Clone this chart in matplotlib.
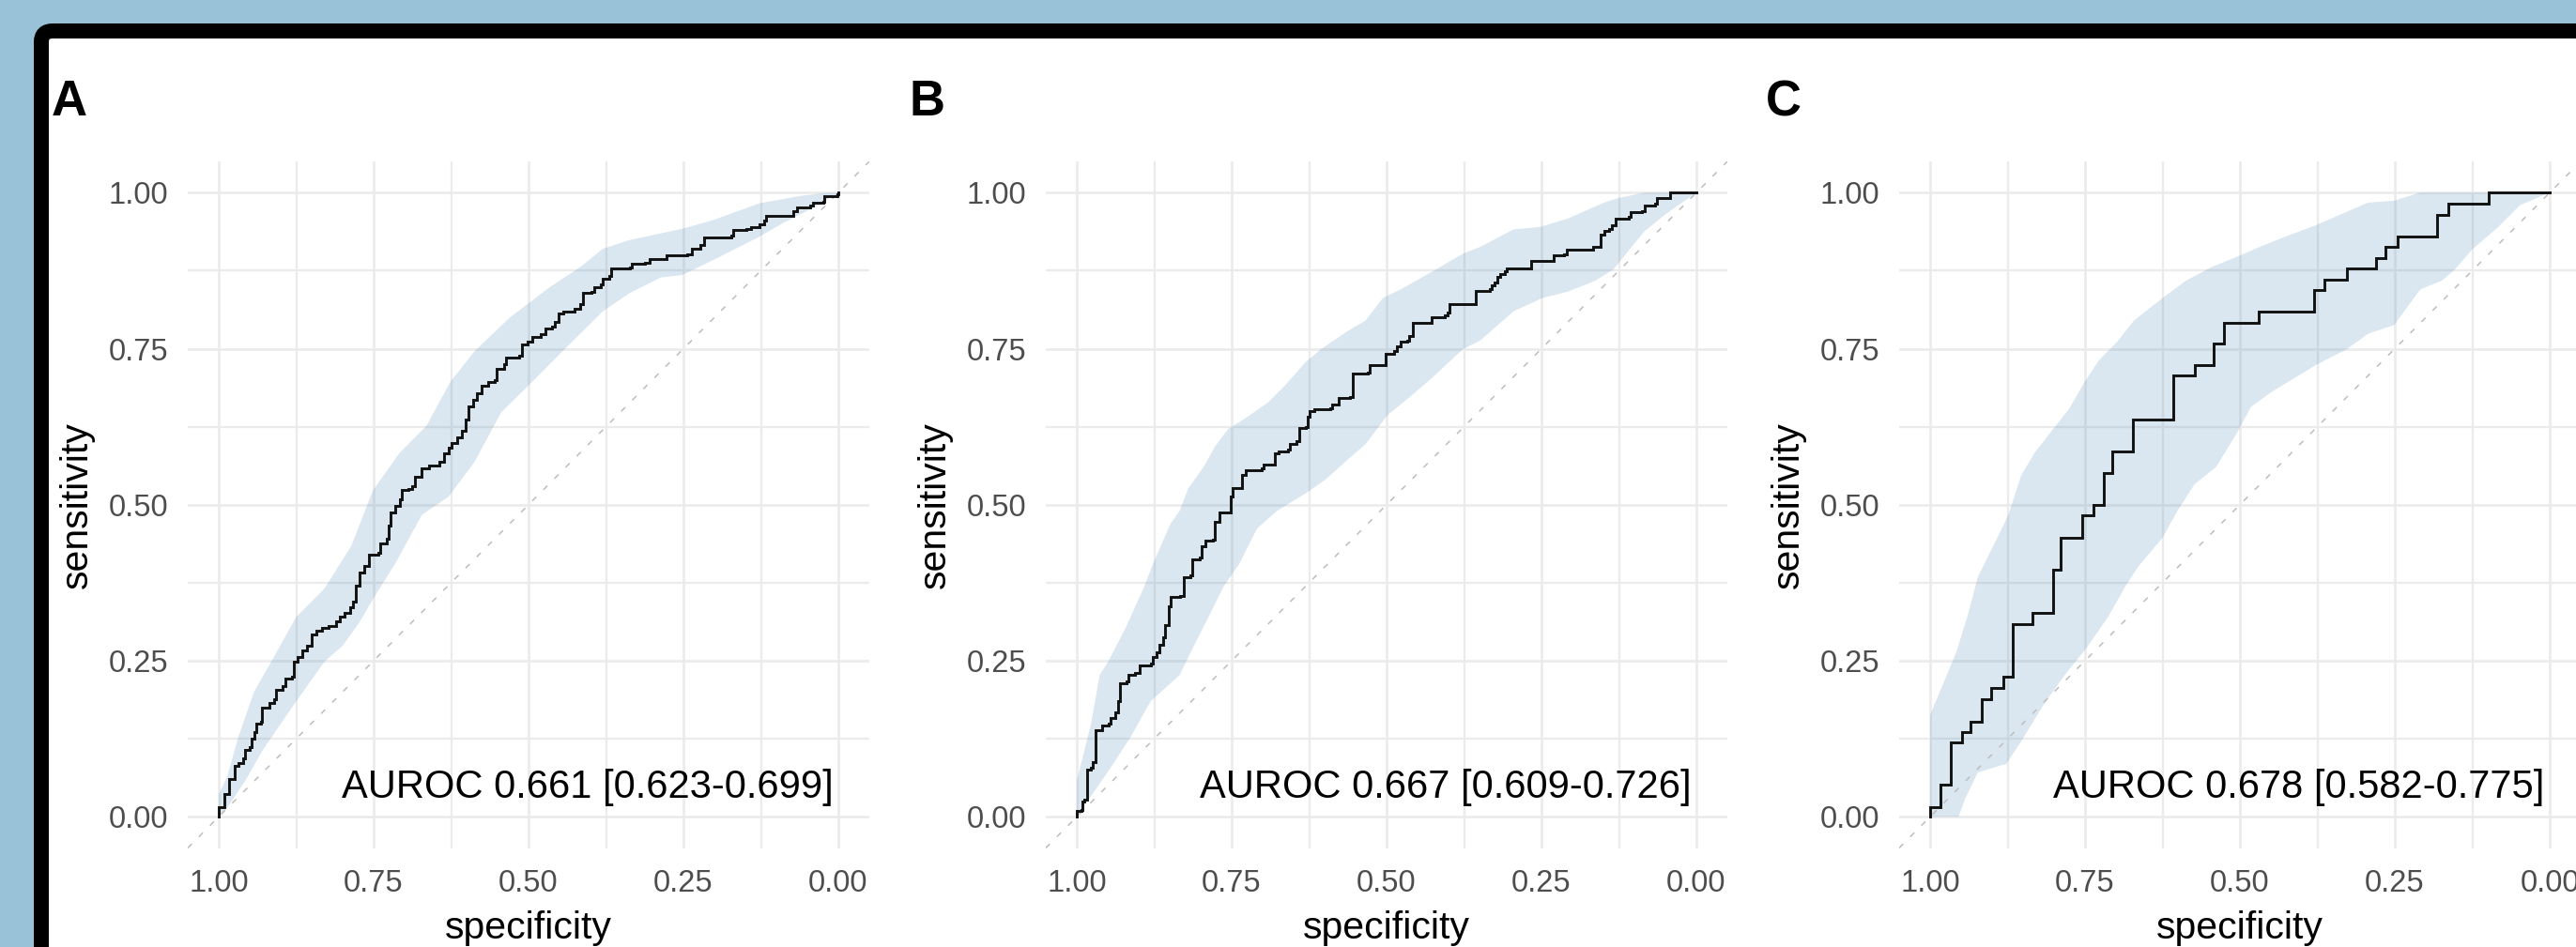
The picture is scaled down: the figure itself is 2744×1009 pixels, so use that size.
import matplotlib
matplotlib.use("Agg")
import matplotlib.pyplot as plt
import numpy as np
from matplotlib.patches import FancyBboxPatch
from matplotlib.ticker import FixedLocator, MultipleLocator

plt.rcParams["font.family"] = ["Liberation Sans", "DejaVu Sans"]

W, H, DPI = 2744, 1009, 100

panel_labels = ["A", "B", "C"]
auroc_labels = [
    "AUROC 0.661 [0.623-0.699]",
    "AUROC 0.667 [0.609-0.726]",
    "AUROC 0.678 [0.582-0.775]",
]
tick_values = [1.00, 0.75, 0.50, 0.25, 0.00]
tick_labels = ["1.00", "0.75", "0.50", "0.25", "0.00"]

# ROC curves (specificity, sensitivity)
roc_a_spec = [1.000, 1.000, 0.991, 0.991, 0.984, 0.984, 0.975, 0.975, 0.968, 0.961,
              0.957, 0.950, 0.947, 0.943, 0.939, 0.932, 0.930, 0.918, 0.911, 0.907,
              0.897, 0.893, 0.882, 0.879, 0.872, 0.865, 0.857, 0.850, 0.843, 0.833,
              0.822, 0.811, 0.804, 0.797, 0.788, 0.783, 0.779, 0.772, 0.765, 0.758,
              0.743, 0.740, 0.729, 0.726, 0.722, 0.715, 0.708, 0.704, 0.694, 0.688,
              0.683, 0.672, 0.661, 0.644, 0.636, 0.629, 0.624, 0.615, 0.608, 0.601,
              0.597, 0.590, 0.583, 0.576, 0.565, 0.555, 0.551, 0.540, 0.537, 0.515,
              0.510, 0.501, 0.494, 0.480, 0.473, 0.462, 0.458, 0.451, 0.444, 0.426,
              0.416, 0.412, 0.398, 0.394, 0.383, 0.380, 0.369, 0.367, 0.337, 0.334,
              0.312, 0.305, 0.277, 0.244, 0.237, 0.223, 0.216, 0.173, 0.170, 0.148,
              0.141, 0.127, 0.120, 0.116, 0.073, 0.066, 0.045, 0.041, 0.024, 0.022,
              0.002, 0.000]
roc_a_sens = [0.000, 0.015, 0.018, 0.036, 0.040, 0.061, 0.063, 0.082, 0.086, 0.093,
              0.107, 0.111, 0.125, 0.136, 0.150, 0.153, 0.175, 0.182, 0.189, 0.203,
              0.210, 0.221, 0.224, 0.249, 0.256, 0.267, 0.274, 0.292, 0.298, 0.303,
              0.305, 0.313, 0.320, 0.327, 0.335, 0.345, 0.370, 0.391, 0.402, 0.420,
              0.423, 0.438, 0.445, 0.466, 0.487, 0.498, 0.509, 0.523, 0.525, 0.530,
              0.544, 0.558, 0.563, 0.569, 0.583, 0.592, 0.599, 0.608, 0.619, 0.636,
              0.658, 0.668, 0.679, 0.690, 0.697, 0.700, 0.718, 0.725, 0.736, 0.739,
              0.757, 0.761, 0.769, 0.773, 0.782, 0.786, 0.793, 0.807, 0.810, 0.814,
              0.821, 0.840, 0.841, 0.849, 0.853, 0.862, 0.867, 0.878, 0.880, 0.886,
              0.888, 0.894, 0.899, 0.901, 0.910, 0.916, 0.928, 0.931, 0.940, 0.942,
              0.945, 0.949, 0.956, 0.963, 0.970, 0.977, 0.979, 0.984, 0.986, 0.995,
              0.997, 1.000]

roc_b_spec = [1.000, 1.000, 0.993, 0.991, 0.988, 0.984, 0.977, 0.974, 0.970, 0.959,
              0.949, 0.945, 0.938, 0.934, 0.931, 0.920, 0.916, 0.906, 0.899, 0.881,
              0.877, 0.871, 0.866, 0.861, 0.857, 0.852, 0.849, 0.834, 0.827, 0.816,
              0.813, 0.802, 0.799, 0.793, 0.781, 0.777, 0.770, 0.756, 0.752, 0.749,
              0.738, 0.734, 0.727, 0.702, 0.699, 0.684, 0.681, 0.674, 0.659, 0.656,
              0.645, 0.641, 0.631, 0.627, 0.624, 0.616, 0.591, 0.588, 0.577, 0.559,
              0.554, 0.531, 0.527, 0.506, 0.502, 0.488, 0.484, 0.477, 0.466, 0.463,
              0.457, 0.431, 0.427, 0.406, 0.402, 0.399, 0.359, 0.356, 0.334, 0.331,
              0.326, 0.321, 0.316, 0.309, 0.306, 0.270, 0.266, 0.234, 0.231, 0.213,
              0.209, 0.170, 0.166, 0.156, 0.154, 0.149, 0.141, 0.136, 0.131, 0.109,
              0.106, 0.088, 0.084, 0.066, 0.063, 0.045, 0.043, 0.000]
roc_b_sens = [0.000, 0.009, 0.011, 0.025, 0.028, 0.075, 0.078, 0.087, 0.138, 0.146,
              0.149, 0.158, 0.167, 0.185, 0.214, 0.217, 0.227, 0.231, 0.243, 0.245,
              0.256, 0.263, 0.275, 0.288, 0.307, 0.337, 0.352, 0.354, 0.384, 0.387,
              0.413, 0.415, 0.433, 0.442, 0.444, 0.472, 0.487, 0.488, 0.513, 0.526,
              0.527, 0.547, 0.556, 0.558, 0.564, 0.565, 0.582, 0.586, 0.588, 0.597,
              0.602, 0.623, 0.625, 0.641, 0.650, 0.653, 0.655, 0.661, 0.671, 0.673,
              0.710, 0.712, 0.723, 0.723, 0.742, 0.746, 0.754, 0.761, 0.763, 0.771,
              0.792, 0.792, 0.801, 0.803, 0.808, 0.822, 0.822, 0.842, 0.845, 0.852,
              0.856, 0.865, 0.870, 0.874, 0.879, 0.879, 0.891, 0.891, 0.900, 0.901,
              0.908, 0.909, 0.913, 0.913, 0.932, 0.938, 0.941, 0.948, 0.959, 0.961,
              0.969, 0.971, 0.980, 0.982, 0.991, 0.992, 1.000, 1.000]

roc_c_spec = [1.000, 1.000, 0.983, 0.966, 0.949, 0.935, 0.917, 0.901, 0.882, 0.867,
              0.835, 0.802, 0.789, 0.755, 0.737, 0.720, 0.706, 0.673, 0.608, 0.573,
              0.543, 0.526, 0.470, 0.380, 0.363, 0.328, 0.281, 0.265, 0.246, 0.182,
              0.163, 0.098, 0.000]
roc_c_sens = [0.000, 0.016, 0.051, 0.119, 0.136, 0.153, 0.188, 0.206, 0.224, 0.309,
              0.327, 0.396, 0.447, 0.483, 0.499, 0.551, 0.586, 0.637, 0.707, 0.723,
              0.758, 0.792, 0.810, 0.844, 0.861, 0.879, 0.895, 0.913, 0.930, 0.964,
              0.982, 1.000, 1.000]

# confidence bands of sensitivity: upper and lower edges
ci_a_hi_spec = [1.0, 0.986, 0.968, 0.943, 0.907, 0.875, 0.829, 0.786, 0.751, 0.708, 0.665, 0.626,
                0.587, 0.530, 0.465, 0.416, 0.380, 0.337, 0.252, 0.202, 0.127, 0.059, 0.024, 0.0]
ci_a_hi_sens = [0.036, 0.065, 0.129, 0.200, 0.263, 0.320, 0.366, 0.434, 0.523, 0.583, 0.626, 0.697,
                0.746, 0.800, 0.849, 0.881, 0.910, 0.924, 0.942, 0.956, 0.983, 0.995, 0.999, 1.0]
ci_a_lo_spec = [1.0, 0.986, 0.957, 0.929, 0.875, 0.829, 0.800, 0.772, 0.751, 0.715, 0.672, 0.629,
                0.587, 0.544, 0.494, 0.444, 0.380, 0.337, 0.287, 0.252, 0.202, 0.130, 0.088, 0.038, 0.0]
ci_a_lo_sens = [0.0, 0.015, 0.058, 0.107, 0.185, 0.249, 0.274, 0.313, 0.349, 0.406, 0.484, 0.513,
                0.569, 0.648, 0.697, 0.747, 0.810, 0.839, 0.864, 0.868, 0.892, 0.928, 0.952, 0.977, 1.0]

ci_b_hi_spec = [1.0, 0.977, 0.963, 0.949, 0.920, 0.891, 0.877, 0.849, 0.834, 0.820, 0.795, 0.777,
                0.756, 0.727, 0.691, 0.663, 0.631, 0.606, 0.563, 0.534, 0.506, 0.477, 0.420, 0.377,
                0.349, 0.295, 0.252, 0.206, 0.149, 0.127, 0.084, 0.0]
ci_b_hi_sens = [0.057, 0.149, 0.227, 0.249, 0.305, 0.369, 0.405, 0.469, 0.490, 0.526, 0.561, 0.593,
                0.621, 0.639, 0.664, 0.692, 0.728, 0.749, 0.778, 0.795, 0.831, 0.845, 0.877, 0.902,
                0.913, 0.941, 0.945, 0.959, 0.984, 0.991, 1.0, 1.0]
ci_b_lo_spec = [1.0, 0.991, 0.970, 0.941, 0.913, 0.881, 0.834, 0.813, 0.791, 0.763, 0.738, 0.709,
                0.677, 0.631, 0.599, 0.563, 0.534, 0.499, 0.456, 0.427, 0.377, 0.349, 0.295, 0.249,
                0.206, 0.163, 0.134, 0.084, 0.049, 0.0]
ci_b_lo_sens = [0.0, 0.014, 0.043, 0.085, 0.128, 0.185, 0.227, 0.270, 0.313, 0.369, 0.405, 0.462,
                0.490, 0.518, 0.540, 0.572, 0.597, 0.643, 0.678, 0.703, 0.749, 0.763, 0.810, 0.831,
                0.842, 0.859, 0.877, 0.938, 0.966, 1.0]

ci_c_hi_spec = [1.0, 0.979, 0.958, 0.940, 0.923, 0.895, 0.874, 0.853, 0.832, 0.804, 0.776, 0.751,
                0.727, 0.699, 0.671, 0.625, 0.587, 0.545, 0.503, 0.468, 0.433, 0.377, 0.293, 0.251,
                0.209, 0.0]
ci_c_hi_sens = [0.163, 0.213, 0.263, 0.320, 0.384, 0.440, 0.483, 0.547, 0.582, 0.618, 0.653, 0.696,
                0.732, 0.760, 0.795, 0.831, 0.859, 0.881, 0.898, 0.913, 0.927, 0.948, 0.984, 0.987,
                1.0, 1.0]
ci_c_lo_spec = [1.0, 0.954, 0.944, 0.923, 0.877, 0.853, 0.818, 0.783, 0.748, 0.713, 0.685, 0.664,
                0.625, 0.601, 0.573, 0.538, 0.503, 0.482, 0.447, 0.377, 0.328, 0.293, 0.251, 0.209,
                0.174, 0.153, 0.125, 0.083, 0.048, 0.0]
ci_c_lo_sens = [0.0, 0.0, 0.028, 0.071, 0.085, 0.121, 0.178, 0.227, 0.270, 0.320, 0.369, 0.401,
                0.447, 0.490, 0.533, 0.561, 0.618, 0.657, 0.682, 0.724, 0.749, 0.774, 0.788, 0.845,
                0.859, 0.877, 0.909, 0.945, 0.980, 1.0]

curves = [(roc_a_spec, roc_a_sens), (roc_b_spec, roc_b_sens), (roc_c_spec, roc_c_sens)]
bands = [
    (ci_a_hi_spec, ci_a_hi_sens, ci_a_lo_spec, ci_a_lo_sens),
    (ci_b_hi_spec, ci_b_hi_sens, ci_b_lo_spec, ci_b_lo_sens),
    (ci_c_hi_spec, ci_c_hi_sens, ci_c_lo_spec, ci_c_lo_sens),
]

BG_BLUE = "#99c2d8"
GRID = "#ebebeb"
BAND = (70 / 255, 130 / 255, 180 / 255, 0.2)
TICK_GREY = "#4d4d4d"

# panel geometry, in pixels from the top-left corner
panel_left = [200, 1114, 2023]
panel_w = 726
panel_top, panel_bottom = 172, 903.5

fig = plt.figure(figsize=(W / DPI, H / DPI), dpi=DPI)
fig.patch.set_facecolor(BG_BLUE)

bg = fig.add_axes([0, 0, 1, 1])
bg.set_xlim(0, W)
bg.set_ylim(H, 0)
bg.axis("off")
bg.set_zorder(-5)
bg.add_patch(FancyBboxPatch((44, 33), 2900, 1200,
                            boxstyle="round,pad=0,rounding_size=12",
                            facecolor="white", edgecolor="black",
                            linewidth=16 * 72 / DPI))

for i in range(3):
    left = panel_left[i]
    ax = fig.add_axes([left / W, 1 - panel_bottom / H, panel_w / W,
                       (panel_bottom - panel_top) / H])
    ax.set_facecolor("none")
    ax.set_xlim(1.05, -0.05)
    ax.set_ylim(-0.05, 1.05)
    for s in ax.spines.values():
        s.set_visible(False)

    ax.xaxis.set_major_locator(FixedLocator(tick_values))
    ax.yaxis.set_major_locator(FixedLocator(tick_values))
    ax.set_xticklabels(tick_labels)
    ax.set_yticklabels(tick_labels)
    ax.xaxis.set_minor_locator(MultipleLocator(0.125))
    ax.yaxis.set_minor_locator(MultipleLocator(0.125))
    ax.tick_params(which="both", length=0, labelsize=23.5, labelcolor=TICK_GREY)
    ax.tick_params(axis="x", pad=16)
    ax.tick_params(axis="y", pad=15)
    ax.grid(which="major", color=GRID, linewidth=1.9)
    ax.grid(which="minor", color=GRID, linewidth=1.6)
    ax.set_axisbelow(True)

    hs, hv, ls, lv = bands[i]
    ax.fill(np.r_[hs, ls[::-1]], np.r_[hv, lv[::-1]], color=BAND, lw=0, zorder=2)

    ax.plot([1.05, -0.05], [-0.05, 1.05], color="#bdbdbd", lw=1.1,
            dashes=(4, 7), zorder=3)

    spec, sens = curves[i]
    ax.plot(spec, sens, drawstyle="steps-post", color="#111111", lw=2.1,
            zorder=4, solid_joinstyle="miter")

    ax.text(0.008, 0.03, auroc_labels[i], ha="right", va="baseline",
            fontsize=30, color="black", zorder=5)

    fig.text((55 + 913 * i) / W, 1 - 123 / H, panel_labels[i], fontsize=38,
             fontweight="bold", ha="left", va="baseline")
    fig.text((left + panel_w / 2) / W, 1 - 1000 / H, "specificity",
             fontsize=29.5, ha="center", va="baseline")
    fig.text((left - 118) / W, 1 - (panel_top + panel_bottom) / 2 / H,
             "sensitivity", fontsize=29.5, rotation=90, ha="center", va="center")

fig.savefig("out.png", dpi=DPI, facecolor=fig.get_facecolor())
